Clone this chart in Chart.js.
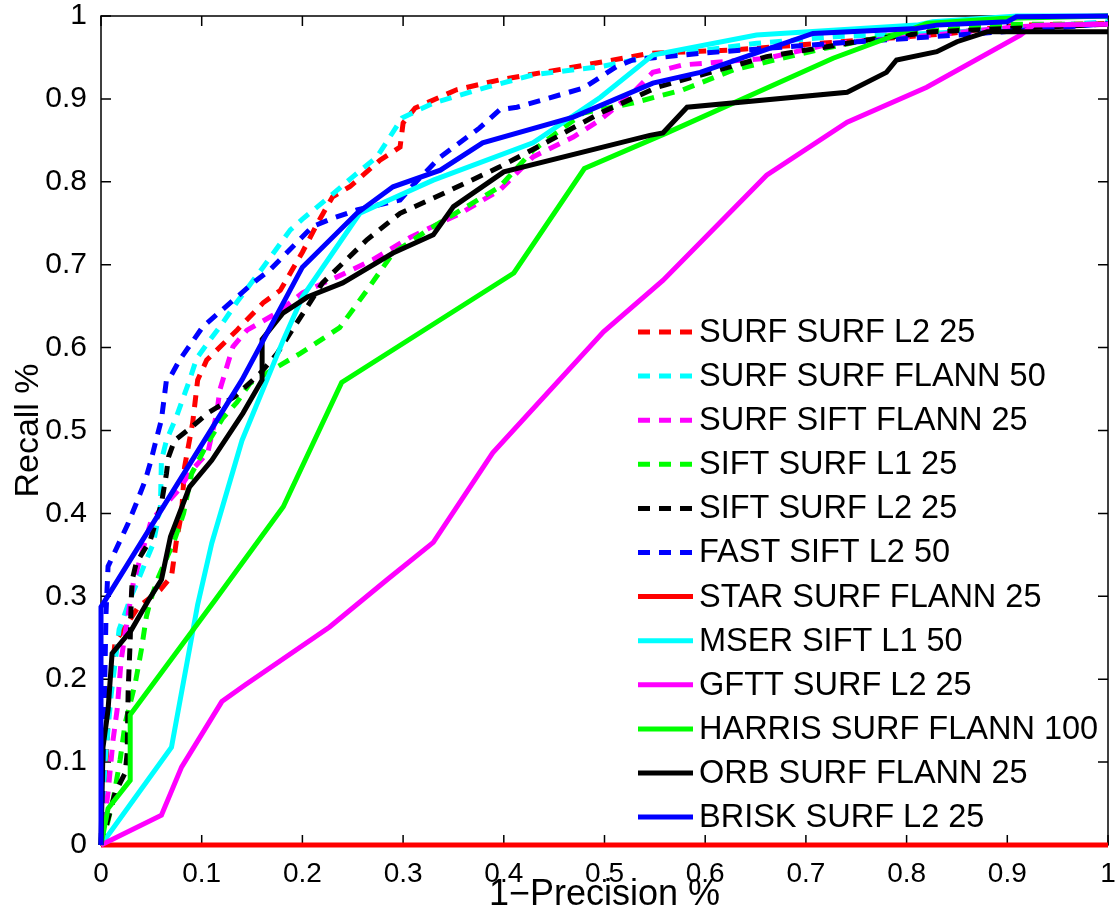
<!DOCTYPE html>
<html>
<head>
<meta charset="utf-8">
<script src="https://cdn.jsdelivr.net/npm/chart.js@4"></script>
<style>
html,body{margin:0;padding:0;background:#fff;}
#wrap{width:1117px;height:917px;}
</style>
</head>
<body>
<div id="wrap"><canvas id="c" width="1117" height="917"></canvas></div>
<script>
// ---- tick labels ----
const xTickLabels = ['0','0.1','0.2','0.3','0.4','0.5','0.6','0.7','0.8','0.9','1'];
const yTickLabels = ['0','0.1','0.2','0.3','0.4','0.5','0.6','0.7','0.8','0.9','1'];

// ---- series (x = 1-Precision, y = Recall) ----
const surfSurfL2_x = [0,0.005,0.008,0.014,0.037,0.059,0.07,0.075,0.08,0.083,0.091,0.096,0.105,0.135,0.161,0.178,0.2,0.215,0.23,0.247,0.277,0.297,0.3,0.312,0.353,0.396,0.463,0.545,0.628,0.843,0.909,1];
const surfSurfL2_y = [0,0.1,0.18,0.245,0.287,0.308,0.324,0.368,0.4,0.456,0.509,0.561,0.585,0.621,0.654,0.669,0.715,0.75,0.782,0.794,0.826,0.842,0.871,0.889,0.911,0.923,0.937,0.955,0.959,0.979,0.989,0.991];

const surfSurfFlann50_x = [0,0.004,0.01,0.018,0.03,0.037,0.052,0.059,0.06,0.065,0.075,0.088,0.095,0.108,0.121,0.135,0.161,0.188,0.2,0.227,0.25,0.274,0.299,0.33,0.38,0.429,0.496,0.538,0.562,0.651,0.727,0.826,1];
const surfSurfFlann50_y = [0,0.1,0.18,0.26,0.3,0.32,0.364,0.408,0.464,0.488,0.517,0.561,0.587,0.609,0.63,0.655,0.697,0.742,0.755,0.782,0.806,0.83,0.877,0.895,0.913,0.929,0.939,0.949,0.953,0.967,0.975,0.979,0.993];

const surfSiftFlann25_x = [0,0.007,0.012,0.016,0.02,0.026,0.032,0.05,0.077,0.09,0.106,0.115,0.118,0.131,0.145,0.175,0.2,0.234,0.27,0.307,0.357,0.396,0.429,0.469,0.496,0.528,0.548,0.578,0.661,0.727,0.826,0.909,1];
const surfSiftFlann25_y = [0,0.063,0.127,0.163,0.223,0.271,0.316,0.392,0.428,0.452,0.473,0.521,0.549,0.601,0.621,0.642,0.666,0.685,0.706,0.733,0.762,0.79,0.83,0.854,0.875,0.907,0.932,0.941,0.949,0.967,0.977,0.987,0.991];

const siftSurfL1_x = [0,0.004,0.012,0.019,0.024,0.034,0.04,0.045,0.049,0.057,0.073,0.082,0.09,0.106,0.121,0.135,0.148,0.181,0.198,0.237,0.264,0.29,0.33,0.363,0.396,0.429,0.479,0.528,0.578,0.628,0.711,0.793,0.9,1];
const siftSurfL1_y = [0,0.014,0.054,0.103,0.147,0.195,0.235,0.275,0.295,0.323,0.368,0.4,0.448,0.485,0.515,0.534,0.557,0.581,0.593,0.624,0.669,0.714,0.746,0.77,0.794,0.838,0.883,0.895,0.911,0.935,0.959,0.979,0.99,0.99];

const siftSurfL2_x = [0,0.014,0.024,0.026,0.027,0.029,0.03,0.031,0.035,0.049,0.06,0.065,0.067,0.073,0.09,0.106,0.133,0.158,0.175,0.22,0.264,0.297,0.34,0.396,0.446,0.496,0.552,0.661,0.761,0.826,1];
const siftSurfL2_y = [0,0.063,0.087,0.111,0.187,0.247,0.295,0.32,0.34,0.368,0.412,0.448,0.468,0.488,0.504,0.521,0.541,0.569,0.593,0.678,0.73,0.762,0.786,0.818,0.85,0.883,0.914,0.951,0.971,0.981,0.99];

const fastSiftL2_x = [0,0.003,0.005,0.007,0.027,0.035,0.044,0.049,0.054,0.06,0.065,0.069,0.078,0.101,0.118,0.151,0.168,0.21,0.23,0.254,0.297,0.313,0.337,0.376,0.396,0.413,0.479,0.512,0.528,0.595,0.727,0.826,0.942,1];
const fastSiftL2_y = [0,0.15,0.28,0.336,0.388,0.412,0.44,0.461,0.485,0.513,0.561,0.565,0.585,0.625,0.643,0.678,0.694,0.746,0.756,0.766,0.778,0.8,0.83,0.865,0.887,0.89,0.913,0.939,0.947,0.955,0.967,0.975,0.985,0.991];

const starSurfFlann25_x = [0,1];
const starSurfFlann25_y = [0,0];

const mserSiftL1_x = [0,0.07,0.096,0.11,0.14,0.181,0.2,0.257,0.33,0.429,0.496,0.548,0.651,0.81,0.826,0.91,1];
const mserSiftL1_y = [0,0.118,0.29,0.364,0.488,0.609,0.661,0.762,0.802,0.847,0.902,0.953,0.977,0.989,0.993,1,1];

const gfttSurfL2_x = [0,0.06,0.08,0.12,0.143,0.227,0.284,0.33,0.389,0.499,0.558,0.661,0.741,0.82,0.913,0.926,1];
const gfttSurfL2_y = [0,0.036,0.094,0.173,0.193,0.263,0.32,0.365,0.473,0.619,0.681,0.808,0.872,0.914,0.977,0.989,0.99];

const harrisSurfFlann100_x = [0,0.007,0.029,0.029,0.113,0.181,0.239,0.41,0.48,0.562,0.727,0.82,0.893,1];
const harrisSurfFlann100_y = [0,0.044,0.078,0.157,0.295,0.408,0.558,0.69,0.816,0.859,0.949,0.991,0.997,1];

const orbSurfFlann25_x = [0,0.002,0.007,0.011,0.03,0.047,0.06,0.069,0.088,0.11,0.141,0.16,0.16,0.181,0.205,0.24,0.29,0.33,0.35,0.4,0.545,0.558,0.582,0.741,0.78,0.79,0.83,0.85,0.88,1];
const orbSurfFlann25_y = [0,0.118,0.163,0.231,0.259,0.295,0.32,0.372,0.432,0.464,0.521,0.561,0.61,0.642,0.661,0.678,0.714,0.736,0.77,0.812,0.856,0.859,0.89,0.908,0.932,0.947,0.957,0.969,0.981,0.981];

const briskSurfL2_x = [0,0,0.14,0.2,0.254,0.29,0.337,0.379,0.469,0.548,0.595,0.707,0.81,0.83,0.9,0.909,1];
const briskSurfL2_y = [0,0.287,0.561,0.697,0.762,0.794,0.814,0.847,0.878,0.919,0.932,0.979,0.985,0.989,0.993,0.999,1];

const seriesLabels = ['SURF SURF L2 25','SURF SURF FLANN 50','SURF SIFT FLANN 25','SIFT SURF L1 25','SIFT SURF L2 25','FAST SIFT L2 50','STAR SURF FLANN 25','MSER SIFT L1 50','GFTT SURF L2 25','HARRIS SURF FLANN 100','ORB SURF FLANN 25','BRISK SURF L2 25'];
const seriesX = [surfSurfL2_x,surfSurfFlann50_x,surfSiftFlann25_x,siftSurfL1_x,siftSurfL2_x,fastSiftL2_x,starSurfFlann25_x,mserSiftL1_x,gfttSurfL2_x,harrisSurfFlann100_x,orbSurfFlann25_x,briskSurfL2_x];
const seriesY = [surfSurfL2_y,surfSurfFlann50_y,surfSiftFlann25_y,siftSurfL1_y,siftSurfL2_y,fastSiftL2_y,starSurfFlann25_y,mserSiftL1_y,gfttSurfL2_y,harrisSurfFlann100_y,orbSurfFlann25_y,briskSurfL2_y];
const seriesColors = ['#ff0000','#00ffff','#ff00ff','#00ff00','#000000','#0000ff','#ff0000','#00ffff','#ff00ff','#00ff00','#000000','#0000ff'];
const seriesDashed = [true,true,true,true,true,true,false,false,false,false,false,false];

const FONT = "'Liberation Sans', Arial, Helvetica, sans-serif";
const DASH = [12, 9];
const LW = 5;

const datasets = seriesLabels.map((lab, i) => ({
  label: lab,
  data: seriesX[i].map((x, k) => ({x: x, y: seriesY[i][k]})),
  borderColor: seriesColors[i],
  backgroundColor: seriesColors[i],
  borderWidth: LW,
  borderDash: seriesDashed[i] ? DASH : [],
  pointRadius: 0,
  pointHoverRadius: 0,
  tension: 0,
  fill: false,
  clip: false,
  order: seriesLabels.length - 1 - i
}));

const framePlugin = {
  id: 'frame',
  beforeDatasetsDraw(chart) {
    const {ctx, chartArea: {left, right, top, bottom}, scales: {x, y}} = chart;
    ctx.save();
    ctx.strokeStyle = '#000';
    ctx.lineWidth = 1.5;
    ctx.setLineDash([]);
    ctx.strokeRect(left, top, right - left, bottom - top);
    const L = 10;
    ctx.beginPath();
    x.ticks.forEach(t => {
      const px = x.getPixelForValue(t.value);
      ctx.moveTo(px, bottom); ctx.lineTo(px, bottom - L);
      ctx.moveTo(px, top); ctx.lineTo(px, top + L);
    });
    y.ticks.forEach(t => {
      const py = y.getPixelForValue(t.value);
      ctx.moveTo(left, py); ctx.lineTo(left + L, py);
      ctx.moveTo(right, py); ctx.lineTo(right - L, py);
    });
    ctx.stroke();
    ctx.restore();
  }
};

const legendPlugin = {
  id: 'insideLegend',
  afterDatasetsDraw(chart) {
    const ctx = chart.ctx;
    ctx.save();
    chart.data.datasets.forEach((ds, i) => {
      const cy = 332 + 44.1 * i;
      ctx.strokeStyle = ds.borderColor;
      ctx.lineWidth = ds.borderWidth;
      ctx.setLineDash(ds.borderDash);
      ctx.beginPath();
      ctx.moveTo(638, cy);
      ctx.lineTo(693, cy);
      ctx.stroke();
      ctx.setLineDash([]);
      ctx.fillStyle = '#000';
      ctx.font = '32.5px ' + FONT;
      ctx.textBaseline = 'middle';
      ctx.textAlign = 'left';
      ctx.fillText(ds.label, 699, cy + 1);
    });
    ctx.restore();
  }
};

new Chart(document.getElementById('c'), {
  type: 'line',
  data: { datasets: datasets },
  options: {
    responsive: false,
    devicePixelRatio: 1,
    animation: false,
    events: [],
    layout: { padding: 0 },
    plugins: { legend: { display: false }, tooltip: { enabled: false } },
    scales: {
      x: {
        type: 'linear', min: 0, max: 1,
        grid: { display: false, drawTicks: false },
        border: { display: false },
        ticks: {
          stepSize: 0.1, autoSkip: false, maxRotation: 0, padding: 12,
          color: '#000', font: { family: FONT, size: 28 },
          callback: (v, i) => xTickLabels[i]
        },
        title: { display: true, text: '1\u2212Precision %', color: '#000', font: { family: FONT, size: 36 }, padding: { top: 0, bottom: 0 } },
        afterFit: s => { s.height = 72; s.paddingLeft = 0; s.paddingRight = 9; }
      },
      y: {
        type: 'linear', min: 0, max: 1,
        grid: { display: false, drawTicks: false },
        border: { display: false },
        ticks: {
          stepSize: 0.1, autoSkip: false, padding: 14,
          color: '#000', font: { family: FONT, size: 30 },
          callback: (v, i) => yTickLabels[i]
        },
        title: { display: true, text: 'Recall %', color: '#000', font: { family: FONT, size: 34 }, padding: { top: 8, bottom: 0 } },
        afterFit: s => { s.width = 101; s.paddingTop = 16; s.paddingBottom = 0; }
      }
    }
  },
  plugins: [framePlugin, legendPlugin]
});
</script>
</body>
</html>
